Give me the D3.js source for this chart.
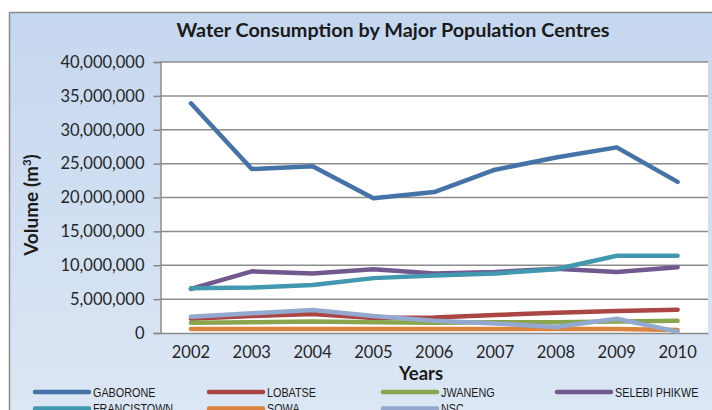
<!DOCTYPE html>
<html>
<head>
<meta charset="utf-8">
<script src="https://cdn.jsdelivr.net/npm/d3@7"></script>
<style>
  body { margin: 0; background: #fff; }
  svg { display: block; }
</style>
</head>
<body>
<div id="chart"></div>
<script>
const years = [2002, 2003, 2004, 2005, 2006, 2007, 2008, 2009, 2010];
const seriesNames = ['GABORONE', 'LOBATSE', 'JWANENG', 'SELEBI PHIKWE', 'FRANCISTOWN', 'SOWA', 'NSC'];
const gaborone = [33.9, 24.2, 24.6, 19.9, 20.8, 24.1, 25.9, 27.4, 22.3];
const lobatse = [2.1, 2.5, 2.8, 2.2, 2.3, 2.65, 3.0, 3.25, 3.45];
const jwaneng = [1.5, 1.6, 1.7, 1.6, 1.5, 1.6, 1.6, 1.7, 1.8];
const selebiPhikwe = [6.5, 9.1, 8.8, 9.4, 8.8, 9.0, 9.5, 9.0, 9.7];
const francistown = [6.6, 6.7, 7.1, 8.1, 8.5, 8.8, 9.4, 11.4, 11.4];
const sowa = [0.6, 0.6, 0.6, 0.6, 0.6, 0.6, 0.6, 0.6, 0.45];
const nsc = [2.4, 2.9, 3.4, 2.5, 1.8, 1.4, 0.9, 2.1, 0.2];
const yTicks = [0, 5e6, 10e6, 15e6, 20e6, 25e6, 30e6, 35e6, 40e6];

const colors = ['#4572a7', '#aa4643', '#89a54e', '#71588f', '#4198af', '#db843d', '#93a9cf'];
const values = [gaborone, lobatse, jwaneng, selebiPhikwe, francistown, sowa, nsc];

const width = 712, height = 410;
const plot = { left: 160.5, right: 708, top: 62, bottom: 333 };

const svg = d3.select('#chart').append('svg')
  .attr('width', width)
  .attr('height', height);

const grad = svg.append('defs').append('linearGradient')
  .attr('id', 'bg').attr('x1', 0).attr('y1', 0).attr('x2', 0).attr('y2', 1);
grad.append('stop').attr('offset', '0%').attr('stop-color', '#c5d7ef');
grad.append('stop').attr('offset', '100%').attr('stop-color', '#dde7f4');

// chart frame (runs off the right and bottom edges)
svg.append('rect')
  .attr('x', 9.5).attr('y', 12.5)
  .attr('width', 720).attr('height', 420)
  .attr('fill', 'url(#bg)')
  .attr('stroke', '#8a8a8a')
  .attr('stroke-width', 1.5);

svg.append('rect')
  .attr('x', plot.left).attr('y', plot.top)
  .attr('width', plot.right - plot.left).attr('height', plot.bottom - plot.top)
  .attr('fill', '#fff');

const x = d3.scaleBand().domain(years).range([plot.left, plot.right]);
const y = d3.scaleLinear().domain([0, 40e6]).range([plot.bottom, plot.top]);

// gridlines
svg.append('g')
  .selectAll('line').data(yTicks.slice(1)).enter().append('line')
    .attr('x1', plot.left).attr('x2', plot.right)
    .attr('y1', d => y(d)).attr('y2', d => y(d))
    .attr('stroke', '#8c8c8c')
    .attr('stroke-width', 1.5);

// y axis
const yAxis = svg.append('g')
  .attr('transform', `translate(${plot.left},0)`)
  .call(d3.axisLeft(y).tickValues(yTicks).tickFormat(d3.format(',')).tickSize(7).tickPadding(9));
yAxis.select('.domain').attr('stroke', '#8a8a8a').attr('stroke-width', 1.5);
yAxis.selectAll('.tick line').attr('stroke', '#8a8a8a').attr('stroke-width', 1.5);
yAxis.selectAll('.tick text')
  .attr('fill', '#262626')
  .attr('font-family', 'Lato, sans-serif')
  .attr('font-size', '16.5px');

// x axis
const xAxis = svg.append('g')
  .attr('transform', `translate(0,${plot.bottom})`)
  .call(d3.axisBottom(x).tickSize(0).tickPadding(13));
xAxis.select('.domain').attr('stroke', '#8a8a8a').attr('stroke-width', 1.5);
xAxis.selectAll('.tick text')
  .attr('fill', '#262626')
  .attr('font-family', 'Lato, sans-serif')
  .attr('font-size', '16.5px');

// lines
const line = d3.line()
  .x((d, i) => x(years[i]) + x.bandwidth() / 2)
  .y(d => y(d * 1e6));

svg.append('g')
  .selectAll('path').data(values).enter().append('path')
    .attr('d', line)
    .attr('fill', 'none')
    .attr('stroke', (d, i) => colors[i])
    .attr('stroke-width', 4.5)
    .attr('stroke-linecap', 'round')
    .attr('stroke-linejoin', 'round');

// title + axis titles
svg.append('text')
  .attr('x', 393).attr('y', 37)
  .attr('text-anchor', 'middle')
  .attr('font-family', 'Lato, sans-serif')
  .attr('font-weight', 'bold')
  .attr('font-size', '19.8px')
  .attr('fill', '#1a1a1a')
  .text('Water Consumption by Major Population Centres');

svg.append('text')
  .attr('x', 421).attr('y', 380)
  .attr('text-anchor', 'middle')
  .attr('font-family', 'Lato, sans-serif')
  .attr('font-weight', 'bold')
  .attr('font-size', '18.5px')
  .attr('fill', '#1a1a1a')
  .text('Years');

const yt = svg.append('text')
  .attr('transform', 'translate(38,205) rotate(-90)')
  .attr('text-anchor', 'middle')
  .attr('font-family', 'Lato, sans-serif')
  .attr('font-weight', 'bold')
  .attr('font-size', '19px')
  .attr('fill', '#1a1a1a');
yt.append('tspan').text('Volume (m');
yt.append('tspan').attr('dy', -7).attr('font-size', '11.5px').text('3');
yt.append('tspan').attr('dy', 7).text(')');

// legend, 4 per row; text squeezed to look like a narrow face
const lg = svg.append('g')
  .selectAll('g').data(seriesNames).enter().append('g')
    .attr('transform', (d, i) => `translate(${35 + (i % 4) * 174},${392 + Math.floor(i / 4) * 16.5})`);
lg.append('line')
  .attr('x1', 0).attr('x2', 54)
  .attr('stroke', (d, i) => colors[i])
  .attr('stroke-width', 4.5)
  .attr('stroke-linecap', 'round');
lg.append('text')
  .attr('transform', 'translate(58,0) scale(0.8,1)')
  .attr('dy', '0.36em')
  .attr('font-family', '"Liberation Sans", Arial, sans-serif')
  .attr('font-size', '13.5px')
  .attr('fill', '#1a1a1a')
  .text(d => d);
</script>
</body>
</html>
